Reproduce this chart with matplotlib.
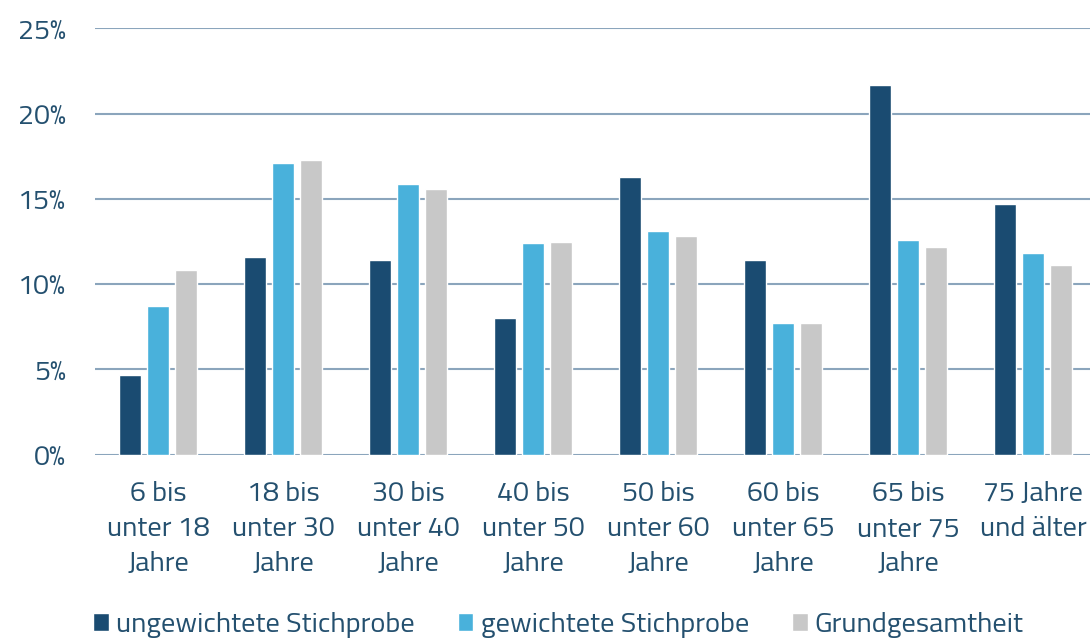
import matplotlib
matplotlib.use("Agg")
import matplotlib.pyplot as plt
import numpy as np
from matplotlib.ticker import FuncFormatter

# age groups and shares (%)
categories = ["6 bis\nunter 18\nJahre", "18 bis\nunter 30\nJahre", "30 bis\nunter 40\nJahre",
              "40 bis\nunter 50\nJahre", "50 bis\nunter 60\nJahre", "60 bis\nunter 65\nJahre",
              "65 bis\nunter 75\nJahre", "75 Jahre\nund älter"]
ungewichtet = [4.7, 11.6, 11.4, 8.0, 16.3, 11.4, 21.7, 14.7]
gewichtet = [8.7, 17.1, 15.9, 12.4, 13.1, 7.7, 12.6, 11.8]
grundgesamtheit = [10.8, 17.3, 15.6, 12.5, 12.8, 7.7, 12.2, 11.1]
series_names = ["ungewichtete Stichprobe", "gewichtete Stichprobe", "Grundgesamtheit"]

colors = ["#1a4b71", "#49b1db", "#c8c8c8"]
text_color = "#24506f"
grid_color = "#8ba5bc"
fs = 20.5

plt.rcParams["font.family"] = ["Titillium Web", "DejaVu Sans"]
plt.rcParams["font.size"] = fs

fig = plt.figure(figsize=(10.9, 6.39), dpi=100)
ax = fig.add_axes([95 / 1090, 1 - 454.7 / 639, 1 - 95 / 1090, (454.7 - 28.3) / 639])

x = np.arange(len(categories))
width = 0.175
offset = 0.222
for i, (vals, name) in enumerate(zip([ungewichtet, gewichtet, grundgesamtheit], series_names)):
    ax.bar(x + (i - 1) * offset, vals, width, color=colors[i], label=name,
           edgecolor="white", linewidth=1.0, zorder=3)

ax.set_ylim(0, 25)
ax.set_xlim(-0.504, 7.456)
ax.set_yticks([0, 5, 10, 15, 20, 25])
ax.yaxis.set_major_formatter(FuncFormatter(lambda v, p: f"{v:.0f}%"))
ax.set_xticks(x)
ax.set_xticklabels(categories, linespacing=1.46)
ax.tick_params(axis="both", length=0, colors=text_color, labelsize=fs)
ax.tick_params(axis="y", pad=21)
ax.tick_params(axis="x", pad=19)
ax.grid(axis="y", color=grid_color, linewidth=1.5, zorder=0)
ax.set_axisbelow(True)
for s in ax.spines.values():
    s.set_visible(False)

leg = fig.legend(loc="center left", bbox_to_anchor=(93 / 1090, 1 - 625 / 639), ncol=3,
                 frameon=False, handlelength=0.56, handleheight=0.56, handletextpad=0.25,
                 columnspacing=1.5, borderpad=0, borderaxespad=0, fontsize=fs)
for t in leg.get_texts():
    t.set_color(text_color)

fig.savefig("out.png", dpi=100)
